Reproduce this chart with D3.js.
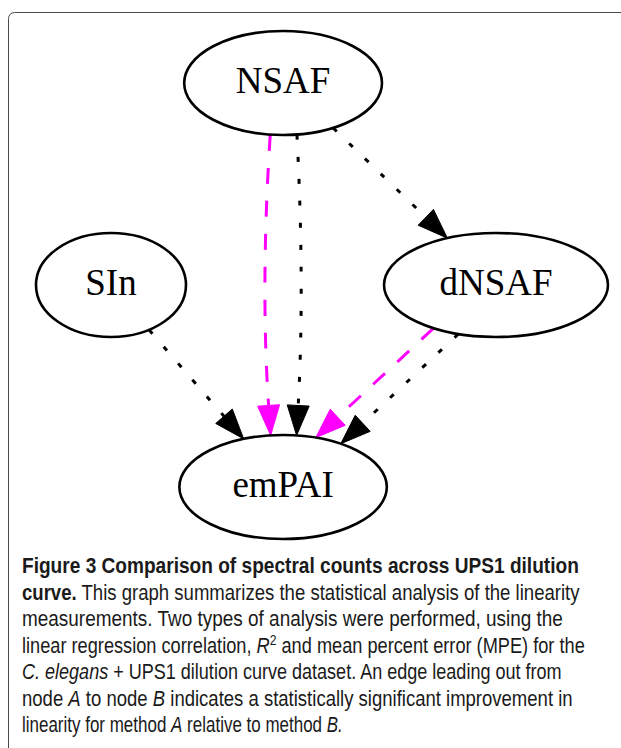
<!DOCTYPE html>
<html><head><meta charset="utf-8">
<script src="https://cdn.jsdelivr.net/npm/d3@7"></script>
<style>html,body{margin:0;padding:0;background:#fff;} svg{display:block}</style>
</head><body><svg id="c" width="621" height="748"></svg>
<script>
// ---- data ----
const nodeNames = ["NSAF", "SIn", "dNSAF", "emPAI"];
const nodeRank  = [0, 1, 1, 2];          // vertical rank in the graph
const nodeCol   = [0.447, 0, 1, 0.447];  // horizontal layout position (0..1)

const edgeSource = ["NSAF", "NSAF", "NSAF", "SIn", "dNSAF", "dNSAF"];
const edgeTarget = ["emPAI", "emPAI", "dNSAF", "emPAI", "emPAI", "emPAI"];
const edgeType   = ["MPE", "R2", "R2", "R2", "MPE", "R2"];   // MPE = magenta dashed, R2 = black dotted
const edgeStartDx = [-0.13, 0.14, 0.505, 0.507, -0.558, -0.336]; // attachment on source (fraction of rx)
const edgeEndDx   = [-0.12, 0.13, -0.434, -0.38, 0.315, 0.556];  // attachment on target (fraction of rx)
const edgeBend    = [5, -4, 0, 0, 0, 0];

const captionLines = [
  [["Figure 3 Comparison of spectral counts across UPS1 dilution", "b"]],
  [["curve.", "b"], [" This graph summarizes the statistical analysis of the linearity", ""]],
  [["measurements. Two types of analysis were performed, using the", ""]],
  [["linear regression correlation, ", ""], ["R", "i"], ["2", "sup"], [" and mean percent error (MPE) for the", ""]],
  [["C. elegans", "i"], [" + UPS1 dilution curve dataset. An edge leading out from", ""]],
  [["node ", ""], ["A", "i"], [" to node ", ""], ["B", "i"], [" indicates a statistically significant improvement in", ""]],
  [["linearity for method ", ""], ["A", "i"], [" relative to method ", ""], ["B.", "i"]]
];
const captionRight = [579, 580, 563, 585, 562, 573, 343];

// ---- drawing ----
const svg = d3.select("#c");

svg.append("rect").attr("x", 8.5).attr("y", 12.5).attr("width", 800).attr("height", 800)
  .attr("rx", 6).attr("fill", "none").attr("stroke", "#4a4a4a").attr("stroke-width", 1);

const x = d3.scaleLinear().domain([0, 1]).range([111, 496]);
const y = d3.scaleLinear().domain([0, 2]).range([83, 487]);
const RY = 52;

const nodes = nodeNames.map((n, i) => ({name: n, cx: x(nodeCol[i]), cy: y(nodeRank[i])}));
const byName = Object.fromEntries(nodes.map(d => [d.name, d]));

const edgeColor = {MPE: "#ff00ff", R2: "#000"};
const edgeDash = {MPE: "16,17", R2: "5,17"};

const gEdges = svg.append("g");
const gNodes = svg.append("g");

const ng = gNodes.selectAll("g").data(nodes).join("g");
const ell = ng.append("ellipse").attr("fill", "none").attr("stroke", "#000").attr("stroke-width", 2.6);
const lbl = ng.append("text")
  .attr("x", d => d.cx).attr("y", d => d.cy + 9.5)
  .attr("text-anchor", "middle")
  .attr("font-family", "'Liberation Serif', 'DejaVu Serif', serif")
  .attr("font-size", 37).attr("fill", "#000")
  .text(d => d.name);
lbl.each(function(d) {
  const w = this.getComputedTextLength();
  d.rx = Math.max(75, w * 0.7071 + 32);
  d.ry = RY;
});
ell.attr("cx", d => d.cx).attr("cy", d => d.cy).attr("rx", d => d.rx).attr("ry", d => d.ry);

const edges = edgeSource.map((s, i) => ({
  s: byName[s], t: byName[edgeTarget[i]], type: edgeType[i],
  fs: edgeStartDx[i], ft: edgeEndDx[i], bend: edgeBend[i]
}));

const ARROW_L = 30, ARROW_HW = 11;
edges.forEach(e => {
  const S = [e.s.cx + e.fs * e.s.rx, e.s.cy + e.s.ry * Math.sqrt(1 - e.fs * e.fs)];
  const T = [e.t.cx + e.ft * e.t.rx, e.t.cy - e.t.ry * Math.sqrt(1 - e.ft * e.ft)];
  const dx = T[0] - S[0], dy = T[1] - S[1], len = Math.hypot(dx, dy);
  const n = [-dy / len, dx / len];
  const C = [(S[0] + T[0]) / 2 + n[0] * e.bend * 2, (S[1] + T[1]) / 2 + n[1] * e.bend * 2];
  let ux = T[0] - C[0], uy = T[1] - C[1];
  const ul = Math.hypot(ux, uy); ux /= ul; uy /= ul;
  const B = [T[0] - ux * ARROW_L, T[1] - uy * ARROW_L];
  const p = d3.path();
  p.moveTo(S[0], S[1]);
  p.quadraticCurveTo(C[0], C[1], B[0], B[1]);
  gEdges.append("path").attr("d", p.toString())
    .attr("fill", "none").attr("stroke", edgeColor[e.type]).attr("stroke-width", 3)
    .attr("stroke-dasharray", edgeDash[e.type]);
  const px = -uy, py = ux;
  const tri = d3.path();
  tri.moveTo(T[0], T[1]);
  tri.lineTo(B[0] + px * ARROW_HW, B[1] + py * ARROW_HW);
  tri.lineTo(B[0] - px * ARROW_HW, B[1] - py * ARROW_HW);
  tri.closePath();
  gEdges.append("path").attr("d", tri.toString())
    .attr("fill", edgeColor[e.type]).attr("stroke", edgeColor[e.type]).attr("stroke-width", 1);
});

// caption: each line horizontally scaled to the reference line width
const cap = svg.append("g")
  .attr("font-family", "'Liberation Sans', Arial, sans-serif")
  .attr("font-size", 22.5).attr("fill", "#1a1a1a");
captionLines.forEach((segs, i) => {
  const g = cap.append("g");
  const t = g.append("text").attr("x", 0).attr("y", 0);
  let raised = false;
  segs.forEach(([txt, st]) => {
    const ts = t.append("tspan").text(txt);
    if (st === "b") ts.attr("font-weight", 700);
    if (st === "i") ts.attr("font-style", "italic");
    if (st === "sup") { ts.attr("font-size", 15).attr("dy", -8); raised = true; }
    else if (raised) { ts.attr("dy", 8); raised = false; }
  });
  const w = t.node().getComputedTextLength();
  const sx = (captionRight[i] - 22) / w;
  g.attr("transform", `translate(22,${573 + i * 26.5}) scale(${sx},1)`);
});
</script></body></html>
